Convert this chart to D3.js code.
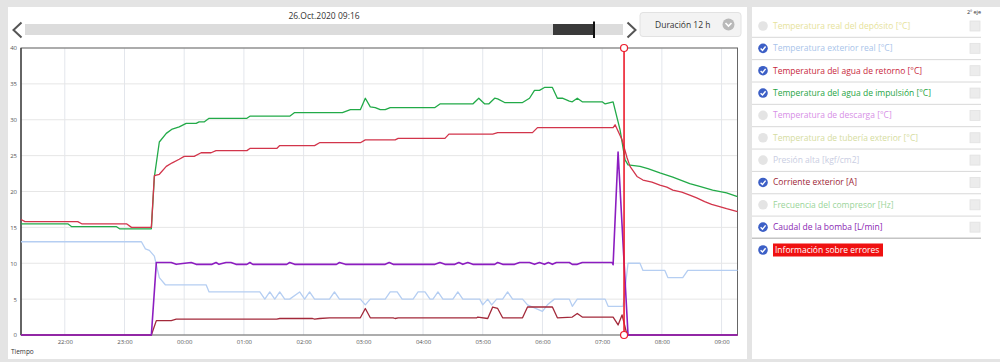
<!DOCTYPE html>
<html><head><meta charset="utf-8">
<script src="https://cdn.jsdelivr.net/npm/d3@7"></script>
<style>
html,body{margin:0;padding:0;background:#e4e4e4;overflow:hidden;}
svg{display:block;font-family:"Open Sans",sans-serif;}
</style></head><body>
<svg id="c" width="1000" height="362"></svg>
<script>
// ---------- DATA ----------
const headerDate = "26.Oct.2020 09:16";
const durationLabel = "Duración 12 h";
const timeStart = "21:16";
const timeEnd = "09:16";
const yTicks = [0, 5, 10, 15, 20, 25, 30, 35, 40];
const xTickLabels = ["22:00","23:00","00:00","01:00","02:00","03:00","04:00","05:00","06:00","07:00","08:00","09:00"];
const xAxisTitle = "Tiempo";
const secondAxisLabel = "2º eje";

const legendLabels = [
  "Temperatura real del depósito [°C]",
  "Temperatura exterior real [°C]",
  "Temperatura del agua de retorno [°C]",
  "Temperatura del agua de impulsión [°C]",
  "Temperatura de descarga [°C]",
  "Temperatura de tubería exterior [°C]",
  "Presión alta [kgf/cm2]",
  "Corriente exterior [A]",
  "Frecuencia del compresor [Hz]",
  "Caudal de la bomba [L/min]",
  "Información sobre errores"
];
const legendColors = ["#e6e29a","#a9c4ea","#c8283c","#1fa544","#d78fe6","#d5dca0","#c9cde2","#9e2636","#9ad49a","#8a1fb2","#ffffff"];
const legendChecked = [false,true,true,true,false,false,false,true,false,true,true];

// series: [time, value]
const exteriorReal = [
  ["21:16",13],["23:17",13],["23:21",12],["23:25",11.8],["23:30",11],["23:35",8],["23:41",7],["00:22",7],["00:25",6],
  ["01:16",6],["01:21",5],["01:26",6],["01:31",5],["01:36",6],["01:41",5],["01:46",5],["01:56",6],["02:01",5],["02:06",6],
  ["02:11",5],["02:26",5],["02:31",6],["02:36",5],["02:57",5],["03:02",4.2],["03:07",5],["03:22",5],["03:27",6],["03:34",6],
  ["03:39",5],["03:50",5],["03:55",6],["04:02",6],["04:07",5],["04:10",5],["04:15",6],["04:20",5],["04:30",5],["04:35",6],
  ["04:40",5],["04:57",5],["05:00",4.2],["05:05",5],["05:09",4.2],["05:14",5],["05:20",5],["05:25",6],["05:30",5],["05:40",5],
  ["05:45",4.2],["06:00",3.3],["06:05",4.2],["06:12",5],["06:27",5],["06:30",4],["06:35",5],["07:03",5],["07:06",4],["07:21",4],
  ["07:26",10],["07:38",10],["07:41",9],["08:03",9],["08:06",8],["08:21",8],["08:26",9],["09:16",9]
];
const retorno = [
  ["21:16",16.1],["21:20",15.8],["22:13",15.8],["22:17",15.5],["23:02",15.5],["23:07",15.0],["23:27",15.0],["23:30",22.2],
  ["23:35",22.4],["23:42",23.5],["23:48",24.0],["23:55",24.5],["00:00",24.9],["00:10",24.9],["00:17",25.4],["00:27",25.4],
  ["00:32",25.7],["01:03",25.7],["01:06",26.0],["01:33",26.0],["01:36",26.4],["02:11",26.4],["02:16",26.8],["02:57",26.8],
  ["03:02",27.2],["03:32",27.2],["03:35",27.4],["04:22",27.4],["04:26",28.0],["05:10",28.0],["05:15",28.2],["05:50",28.2],
  ["05:55",28.9],["07:11",28.9],["07:13",29.3],["07:20",27.2],["07:25",24.7],["07:28",23.5],["07:35",22.1],["07:41",21.6],
  ["07:50",21.3],["07:58",20.9],["08:05",20.6],["08:11",20.2],["08:20",19.9],["08:28",19.5],["08:35",19.1],["08:43",18.6],
  ["08:50",18.2],["08:58",17.9],["09:05",17.6],["09:16",17.2]
];
const impulsion = [
  ["21:16",15.5],["22:03",15.5],["22:07",15.1],["22:52",15.1],["22:55",14.8],["23:27",14.8],["23:30",22.0],["23:35",26.9],
  ["23:42",28.1],["23:48",28.7],["23:55",29.0],["00:02",29.5],["00:12",29.5],["00:15",29.7],["00:20",29.7],["00:25",30.2],
  ["01:03",30.2],["01:06",30.5],["01:46",30.5],["01:51",31.0],["02:39",31.0],["02:47",31.4],["02:57",31.4],["03:02",33.0],
  ["03:07",31.8],["03:12",31.7],["03:17",31.4],["03:22",31.4],["03:27",31.7],["04:12",31.7],["04:17",32.2],["04:50",32.2],
  ["04:56",33.0],["05:02",32.2],["05:06",32.2],["05:12",33.0],["05:15",32.9],["05:22",32.4],["05:40",32.4],["05:47",33.0],
  ["05:52",34.1],["05:57",34.1],["06:02",34.5],["06:10",34.5],["06:15",33.0],["06:20",33.0],["06:27",32.6],["06:30",32.5],
  ["06:35",33.0],["06:40",32.5],["07:00",32.5],["07:03",32.2],["07:11",32.5],["07:18",28.6],["07:23",24.4],["07:26",23.7],
  ["07:38",23.5],["07:46",23.2],["07:58",22.6],["08:11",22.0],["08:28",21.1],["08:38",20.7],["08:51",20.2],["09:05",19.8],
  ["09:16",19.3]
];
const corriente = [
  ["21:16",0],["23:27",0],["23:32",2.0],["23:47",2.0],["23:52",2.2],["01:33",2.2],["01:36",2.3],["02:09",2.3],["02:11",2.2],
  ["02:16",2.3],["02:26",2.4],["02:57",2.4],["03:02",3.7],["03:07",2.4],["03:30",2.4],["03:32",2.3],["03:35",2.4],["04:54",2.4],
  ["04:55",2.5],["05:05",2.3],["05:10",3.9],["05:15",3.7],["05:20",2.4],["05:40",2.4],["05:45",3.9],["06:10",3.9],["06:15",2.4],
  ["06:30",2.5],["06:35",3.0],["06:40",2.5],["07:11",2.5],["07:16",1.4],["07:20",2.8],["07:25",0],["09:16",0]
];
const caudal = [
  ["21:16",0],["23:27",0],["23:32",10.1],["23:47",10.1],["23:52",9.85],["00:07",10.1],["00:12",9.85],["00:28",9.85],["00:32",10.1],
  ["00:35",9.85],["00:42",10.1],["00:47",10.1],["00:52",9.85],["01:03",9.85],["01:06",10.1],["01:09",9.85],["01:43",9.85],
  ["01:46",10.1],["01:51",9.85],["02:33",9.85],["02:36",10.1],["02:42",9.85],["03:22",9.85],["03:26",10.1],["03:30",9.85],
  ["04:12",9.85],["04:17",10.1],["04:22",9.85],["04:32",9.85],["04:36",10.1],["04:40",9.85],["04:45",10.1],["04:50",9.85],
  ["05:12",9.85],["05:15",10.1],["05:20",9.85],["05:32",9.85],["05:37",10.1],["05:47",10.1],["05:52",9.85],["05:57",10.1],
  ["06:02",9.85],["06:06",10.1],["06:10",9.85],["06:14",10.1],["06:27",10.1],["06:30",9.85],["06:35",9.85],["06:40",10.1],
  ["07:10",10.1],["07:11",9.8],["07:16",25.5],["07:26",0],["09:16",0]
];
const errorEvents = ["07:22"];

// ---------- HELPERS ----------
function parseT(s){
  const [h,m] = s.split(":").map(Number);
  return new Date(2020, 9, h >= 21 ? 25 : 26, h, m);
}

const svg = d3.select("#c");

// panels
svg.append("rect").attr("x",8).attr("y",7).attr("width",739).attr("height",352).attr("fill","#fff");
svg.append("rect").attr("x",752).attr("y",7).attr("width",248).attr("height",352).attr("fill","#fff");

// plot geometry
const P = {l:21, r:737.5, t:48, b:335};
const x = d3.scaleTime().domain([parseT(timeStart), parseT(timeEnd)]).range([P.l, P.r]);
const y = d3.scaleLinear().domain([0, d3.max(yTicks)]).range([P.b, P.t]);

// header
svg.append("text").attr("x",324).attr("y",19).attr("text-anchor","middle")
  .attr("font-size",8.5).attr("fill","#333").text(headerDate);

// slider
svg.append("rect").attr("x",25).attr("y",24).attr("width",598).attr("height",11).attr("fill","#dcdcdc");
svg.append("rect").attr("x",553).attr("y",24).attr("width",41).attr("height",11).attr("fill","#3a3a3a");
svg.append("line").attr("x1",594).attr("x2",594).attr("y1",21.5).attr("y2",38).attr("stroke","#111").attr("stroke-width",2);
svg.append("path").attr("d","M21.5,22.5 L13.5,30 L21.5,37.5").attr("fill","none").attr("stroke","#555").attr("stroke-width",2);
svg.append("path").attr("d","M627.5,22.5 L635.5,30 L627.5,37.5").attr("fill","none").attr("stroke","#555").attr("stroke-width",2);

// duration box
svg.append("rect").attr("x",640).attr("y",12.5).attr("width",101).attr("height",24).attr("rx",3)
  .attr("fill","#f3f3f3").attr("stroke","#e2e2e2");
svg.append("text").attr("x",655).attr("y",28).attr("font-size",8.5).attr("fill","#333").text(durationLabel);
svg.append("circle").attr("cx",728.5).attr("cy",24.5).attr("r",6).attr("fill","#b9b9b9");
svg.append("path").attr("d","M725.5,23 L728.5,26 L731.5,23").attr("fill","none").attr("stroke","#fff").attr("stroke-width",1.6);

// grid
const g = svg.append("g");
const xTickDates = xTickLabels.map(parseT);
g.selectAll(".vg").data(xTickDates).enter().append("line")
  .attr("x1",d=>x(d)).attr("x2",d=>x(d)).attr("y1",P.t).attr("y2",P.b)
  .attr("stroke","#e3e6ec").attr("stroke-width",1);
g.selectAll(".hg").data(yTicks).enter().append("line")
  .attr("x1",P.l).attr("x2",P.r).attr("y1",d=>y(d)).attr("y2",d=>y(d))
  .attr("stroke","#e6e6e6").attr("stroke-width",1);

// axes
const xAxis = d3.axisBottom(x).tickValues(xTickDates).tickFormat(d3.timeFormat("%H:%M")).tickSize(0).tickPadding(5);
const xa = svg.append("g").attr("transform",`translate(0,${P.b})`).call(xAxis);
xa.select(".domain").remove();
xa.selectAll("text").attr("font-size",6).attr("fill","#555").attr("font-family","Open Sans");

const yAxis = d3.axisLeft(y).tickValues(yTicks).tickSize(0).tickPadding(4);
const ya = svg.append("g").attr("transform",`translate(${P.l},0)`).call(yAxis);
ya.select(".domain").remove();
ya.selectAll("text").attr("font-size",6).attr("fill","#555").attr("font-family","Open Sans");

svg.append("text").attr("x",11).attr("y",354).attr("font-size",6.5).attr("fill","#333").text(xAxisTitle);

// plot frame
svg.append("rect").attr("x",P.l).attr("y",P.t).attr("width",P.r-P.l).attr("height",P.b-P.t)
  .attr("fill","none").attr("stroke","#666").attr("stroke-width",1);
svg.append("line").attr("x1",P.l).attr("x2",P.l).attr("y1",P.t).attr("y2",P.b).attr("stroke","#444").attr("stroke-width",1.4);

// lines
const line = d3.line().x(d=>x(parseT(d[0]))).y(d=>y(d[1]));
const lg = svg.append("g").attr("fill","none").attr("stroke-linejoin","round");
const seriesList = [
  {data: exteriorReal, color:"#b5cef2", w:1.3},
  {data: corriente, color:"#a3293a", w:1.3},
  {data: impulsion, color:"#22aa48", w:1.3},
  {data: retorno, color:"#d2354b", w:1.3},
  {data: caudal, color:"#8c1dc0", w:1.6}
];
seriesList.forEach(s => {
  lg.append("path").attr("d", line(s.data)).attr("stroke", s.color).attr("stroke-width", s.w);
});

// error events
errorEvents.forEach(t => {
  const xe = x(parseT(t));
  lg.append("line").attr("x1",xe).attr("x2",xe).attr("y1",y(0)).attr("y2",y(d3.max(yTicks)))
    .attr("stroke","#ec1c2c").attr("stroke-width",1.6);
  [0, d3.max(yTicks)].forEach(v => {
    lg.append("circle").attr("cx",xe).attr("cy",y(v)).attr("r",3.5)
      .attr("fill","#fff").attr("stroke","#ec1c2c").attr("stroke-width",1.2);
  });
});

// legend
const L = svg.append("g");
L.append("text").attr("x",974).attr("y",14).attr("text-anchor","middle").attr("font-size",5.5).attr("fill","#333").text(secondAxisLabel);
legendLabels.forEach((lab,i) => {
  const cy = i < 10 ? 26 + i*22.35 : 250;
  if (i < 10) {
    const sy = i < 9 ? cy + 11.3 : 238.3;
    L.append("line").attr("x1",752).attr("x2",981).attr("y1",sy).attr("y2",sy)
      .attr("stroke", i < 9 ? "#d8d8d8" : "#c4c4c4").attr("stroke-width", i < 9 ? 1 : 1.5);
    L.append("rect").attr("x",970).attr("y",cy-5).attr("width",10).attr("height",10)
      .attr("fill","#ececec").attr("stroke","#e2e2e2").attr("stroke-width",0.8);
  }
  if (legendChecked[i]) {
    L.append("circle").attr("cx",763).attr("cy",cy).attr("r",4.8).attr("fill","#3c5fc6");
    L.append("path").attr("d",`M${760.6},${cy+0.2} L${762.5},${cy+2} L${765.6},${cy-1.8}`)
      .attr("fill","none").attr("stroke","#fff").attr("stroke-width",1.4);
  } else {
    L.append("circle").attr("cx",763).attr("cy",cy).attr("r",4.8).attr("fill","#e4e4e4");
  }
  if (i === 10) {
    L.append("rect").attr("x",773).attr("y",cy-6.5).attr("width",110).attr("height",13).attr("fill","#ef1111");
  }
  L.append("text").attr("x", i===10 ? 775 : 773).attr("y",cy+3).attr("font-size",8.5)
    .attr("fill",legendColors[i]).text(lab);
});
</script>
</body></html>
